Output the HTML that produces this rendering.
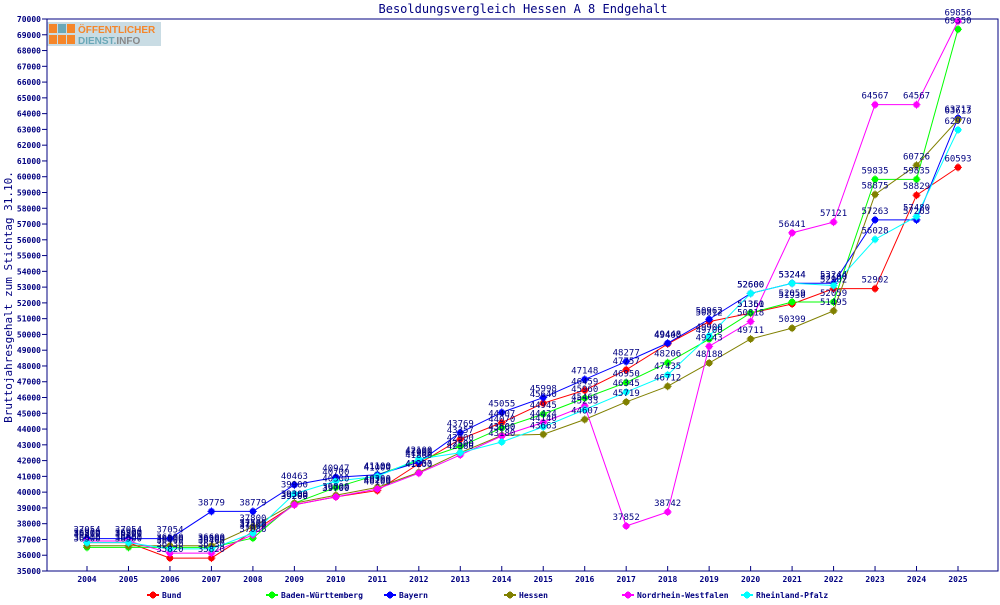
<!DOCTYPE html>
<html><head><meta charset="utf-8"><style>
body{margin:0;background:#fff;width:1000px;height:600px;overflow:hidden}
svg text{font-family:"DejaVu Sans Mono","Liberation Mono",monospace}
</style></head><body>
<svg id="c" width="1000" height="600" xmlns="http://www.w3.org/2000/svg">
<text x="523" y="13" text-anchor="middle" font-size="12" fill="#000080">Besoldungsvergleich Hessen A 8 Endgehalt</text>
<text transform="translate(12,297) rotate(-90)" text-anchor="middle" font-size="11" fill="#000080">Bruttojahresgehalt zum Stichtag 31.10.</text>
<g>
<rect x="47" y="22" width="114" height="24" fill="#c9dce4"/>
<rect x="49" y="24" width="8" height="9" fill="#f5862a"/><rect x="58" y="24" width="8" height="9" fill="#6aa8b8"/><rect x="67" y="24" width="8" height="9" fill="#f5862a"/>
<rect x="49" y="35" width="8" height="9" fill="#f5862a"/><rect x="58" y="35" width="8" height="9" fill="#f5862a"/><rect x="67" y="35" width="8" height="9" fill="#f5862a"/>
<text x="78" y="33" font-size="10" font-weight="bold" fill="#f5862a" style="font-family:'Liberation Sans',sans-serif">ÖFFENTLICHER</text>
<text x="78" y="44" font-size="10" font-weight="bold" fill="#6aa8b8" style="font-family:'Liberation Sans',sans-serif">DIENST.<tspan fill="#888">INFO</tspan></text>
</g>
<g id="axes"></g><g id="series"></g><g id="legend"></g>
</svg>
<script>
const years=[2004,2005,2006,2007,2008,2009,2010,2011,2012,2013,2014,2015,2016,2017,2018,2019,2020,2021,2022,2023,2024,2025];
const bund=[36800,36800,35820,35820,37500,39200,39700,40100,41800,43357,44407,45640,46459,47757,49400,50812,51351,51930,52902,52902,58829,60593];
const bw=[36500,36500,36500,36500,37086,39300,40300,41100,42000,42900,44070,44945,45960,46950,48206,49700,51360,52059,52059,59835,59835,69350];
const bayern=[37054,37054,37054,38779,38779,40463,40947,41100,41900,43769,45055,45998,47148,48277,49448,50962,52600,53244,53244,57263,57263,63717];
const hessen=[36600,36600,36600,36600,37800,39300,39800,40300,41253,42500,43600,43663,44607,45719,46712,48188,49711,50399,51495,58875,60726,63613];
const nrw=[36900,36900,36130,36130,37300,39200,39700,40200,41200,42360,43560,44424,45466,37852,38742,49243,50818,56441,57121,64567,64567,69856];
const rp=[36800,36800,36400,36400,37400,39900,40700,41000,42100,42500,43180,44140,45233,46345,47435,49900,52600,53244,53100,56028,57480,62970];
const seriesNames=["Bund","Baden-Württemberg","Bayern","Hessen","Nordrhein-Westfalen","Rheinland-Pfalz"];
const seriesColors=["#ff0000","#00ff00","#0000ff","#808000","#ff00ff","#00ffff"];
const seriesData=[bund,bw,bayern,hessen,nrw,rp];
const yTicks=[];for(let v=35000;v<=70000;v+=1000)yTicks.push(v);
const NS="http://www.w3.org/2000/svg";
const X0=87,XS=41.476,Y0=571,Y1=19,VMIN=35000,VMAX=70000;
function xs(i){return X0+i*XS}
function ys(v){return Y0-(v-VMIN)*(Y0-Y1)/(VMAX-VMIN)}
function mk(t,a,p){const e=document.createElementNS(NS,t);for(const k in a)e.setAttribute(k,a[k]);p.appendChild(e);return e}
const ax=document.getElementById('axes');
const frame=mk('rect',{x:47,y:19,width:951,height:552,fill:'none',stroke:'#000080','stroke-width':1},ax);


yTicks.forEach(v=>{const y=ys(v);
 mk('line',{x1:42,x2:47,y1:y,y2:y,stroke:'#000080'},ax);
 const t=mk('text',{x:41,y:y+3,'text-anchor':'end','font-size':8,'font-weight':'bold',fill:'#000080'},ax);t.textContent=v;
 
 });
years.forEach((yr,i)=>{const x=xs(i);
 mk('line',{x1:x,x2:x,y1:566,y2:571,stroke:'#000080'},ax);
 const t=mk('text',{x:x,y:582,'text-anchor':'middle','font-size':8,'font-weight':'bold',fill:'#000080'},ax);t.textContent=yr;
 
 });
const sg=document.getElementById('series');
function star(g,x,y,c){mk('rect',{x:x-3,y:y-2,width:6,height:4,fill:c},g);mk('rect',{x:x-2,y:y-3,width:4,height:6,fill:c},g);mk('line',{x1:x-4,x2:x+4,y1:y,y2:y,stroke:c},g);mk('line',{x1:x,x2:x,y1:y-4,y2:y+4,stroke:c},g);}
seriesData.forEach((d,s)=>{
 const g=mk('g',{},sg);
 
 
 const p=mk('polyline',{points:d.map((v,i)=>xs(i)+','+ys(v)).join(' '),fill:'none',stroke:seriesColors[s],'stroke-width':1},g);
 
 
 d.forEach((v,i)=>star(g,xs(i),ys(v),seriesColors[s]));
});
seriesData.forEach((d,s)=>{d.forEach((v,i)=>{
 const t=mk('text',{x:xs(i),y:ys(v)-6,'text-anchor':'middle','font-size':9,fill:'#000080'},sg);t.textContent=v;
 
 });});
const lg=document.getElementById('legend');
const legX=[153,272,390,510,628,747];
seriesNames.forEach((n,s)=>{
 const g=mk('g',{},lg);
 
 
 mk('line',{x1:legX[s]-6,x2:legX[s]+6,y1:595,y2:595,stroke:seriesColors[s],'stroke-width':2},g);
 star(g,legX[s],595,seriesColors[s]);
 const t=mk('text',{x:legX[s]+9,y:598,'font-size':8,'font-weight':'bold',fill:'#000080'},g);t.textContent=n;
});
</script>
</body></html>
